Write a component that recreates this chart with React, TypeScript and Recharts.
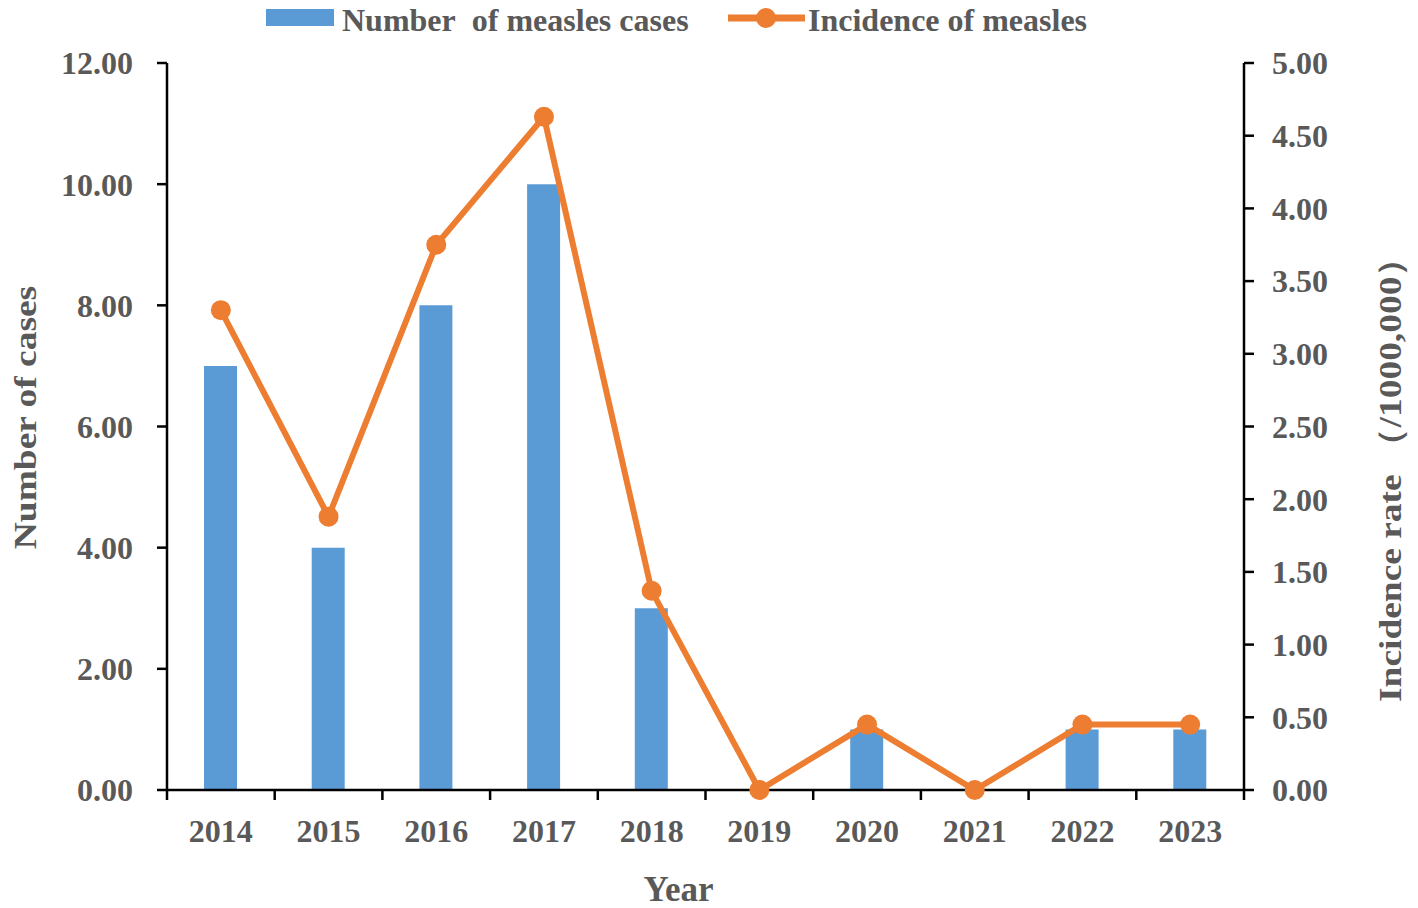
import React from 'react';
import { ComposedChart, Bar, Line, XAxis, YAxis, Legend } from 'recharts';

const years = ['2014', '2015', '2016', '2017', '2018', '2019', '2020', '2021', '2022', '2023'];
const cases = [7, 4, 8, 10, 3, 0, 1, 0, 1, 1];
const incidence = [3.3, 1.88, 3.75, 4.63, 1.37, 0, 0.45, 0, 0.45, 0.45];
const leftTicks = [0, 2, 4, 6, 8, 10, 12];
const rightTicks = [0, 0.5, 1, 1.5, 2, 2.5, 3, 3.5, 4, 4.5, 5];

const data = years.map((year, i) => ({ year, cases: cases[i], incidence: incidence[i] }));

const FONT = '"Liberation Serif", "Times New Roman", serif';
const TEXT = '#595959';
const BLUE = '#5B9BD5';
const ORANGE = '#ED7D31';
const tickStyle = { fontFamily: FONT, fontWeight: 700, fontSize: 32, fill: TEXT };

const X_TICK_SIZE = 10;
const X_TICK_MARGIN = 19;

const LegendContent = () => (
  <svg width={1400} height={44} style={{ display: 'block', overflow: 'visible' }}>
    <rect x={258} y={1} width={68} height={17} fill={BLUE} />
    <text x={334} y={23} style={tickStyle}>
      {'Number\u00A0 of measles cases'}
    </text>
    <line x1={720} y1={10} x2={797} y2={10} stroke={ORANGE} strokeWidth={7} />
    <circle cx={758} cy={10} r={10} fill={ORANGE} />
    <text x={800} y={23} style={tickStyle}>
      Incidence of measles
    </text>
  </svg>
);

const XTick = (props: any) => {
  const { x, y, payload, index, visibleTicksCount } = props;
  const half = payload?.offset ?? 0;
  const axisY = y - X_TICK_SIZE - X_TICK_MARGIN;
  const last = index === (visibleTicksCount ?? years.length) - 1;
  return (
    <g>
      <line x1={x - half} y1={axisY} x2={x - half} y2={axisY + X_TICK_SIZE} stroke="#000" strokeWidth={2.5} />
      {last && (
        <line x1={x + half} y1={axisY} x2={x + half} y2={axisY + X_TICK_SIZE} stroke="#000" strokeWidth={2.5} />
      )}
      <text x={x} y={y} dy="0.71em" textAnchor="middle" style={tickStyle}>
        {payload.value}
      </text>
    </g>
  );
};

const LeftTitle = (props: any) => {
  const vb = props.viewBox || {};
  const x = 28;
  const y = (vb.y ?? 0) + (vb.height ?? 0) / 2 - 9;
  return (
    <text
      x={0}
      y={0}
      transform={`translate(${x}, ${y}) rotate(-90) scale(1.17, 1)`}
      textAnchor="middle"
      style={tickStyle}
    >
      Number of cases
    </text>
  );
};

const RightTitle = (props: any) => {
  const vb = props.viewBox || {};
  const x = (vb.x ?? 0) + 157;
  const y = (vb.y ?? 0) + (vb.height ?? 0) / 2 + 44;
  return (
    <text
      x={0}
      y={0}
      transform={`translate(${x}, ${y}) rotate(-90) scale(1.17, 1)`}
      textAnchor="middle"
      style={tickStyle}
    >
      Incidence rate （/1000,000）
    </text>
  );
};

const BottomTitle = (props: any) => {
  const vb = props.viewBox || {};
  const x = (vb.x ?? 0) + (vb.width ?? 0) / 2 - 27;
  return (
    <text x={x} y={893} textAnchor="middle" style={{ ...tickStyle, fontSize: 35 }}>
      Year
    </text>
  );
};

export default function App() {
  return (
    <ComposedChart
      width={1400}
      height={900}
      data={data}
      margin={{ top: 55, right: 0, bottom: 8, left: 0 }}
    >
      <Legend
        verticalAlign="middle"
        layout="horizontal"
        wrapperStyle={{ top: 0, left: 0, width: 1400, height: 44 }}
        content={<LegendContent />}
      />
      <XAxis
        xAxisId="cat"
        dataKey="year"
        height={110}
        axisLine={{ stroke: '#000', strokeWidth: 2.5 }}
        tickLine={false}
        tickSize={X_TICK_SIZE}
        tickMargin={X_TICK_MARGIN}
        tick={<XTick />}
        interval={0}
        label={<BottomTitle />}
      />
      <YAxis
        yAxisId="left"
        orientation="left"
        width={159}
        domain={[0, 12]}
        ticks={leftTicks}
        tickFormatter={(v: number) => v.toFixed(2)}
        axisLine={{ stroke: '#000', strokeWidth: 2.5 }}
        tickLine={{ stroke: '#000', strokeWidth: 2.5 }}
        tickSize={10}
        tickMargin={24}
        tick={tickStyle}
        interval={0}
        label={<LeftTitle />}
      />
      <YAxis
        yAxisId="right"
        orientation="right"
        width={164}
        domain={[0, 5]}
        ticks={rightTicks}
        tickFormatter={(v: number) => v.toFixed(2)}
        axisLine={{ stroke: '#000', strokeWidth: 2.5 }}
        tickLine={{ stroke: '#000', strokeWidth: 2.5 }}
        tickSize={10}
        tickMargin={18}
        tick={{ ...tickStyle, textAnchor: 'start' }}
        interval={0}
        label={<RightTitle />}
      />
      <Bar
        xAxisId="cat"
        yAxisId="left"
        dataKey="cases"
        fill={BLUE}
        barSize={33}
        isAnimationActive={false}
      />
      <Line
        xAxisId="cat"
        yAxisId="right"
        dataKey="incidence"
        stroke={ORANGE}
        strokeWidth={6}
        dot={{ r: 10, fill: ORANGE, stroke: 'none' }}
        activeDot={false}
        isAnimationActive={false}
      />
    </ComposedChart>
  );
}
